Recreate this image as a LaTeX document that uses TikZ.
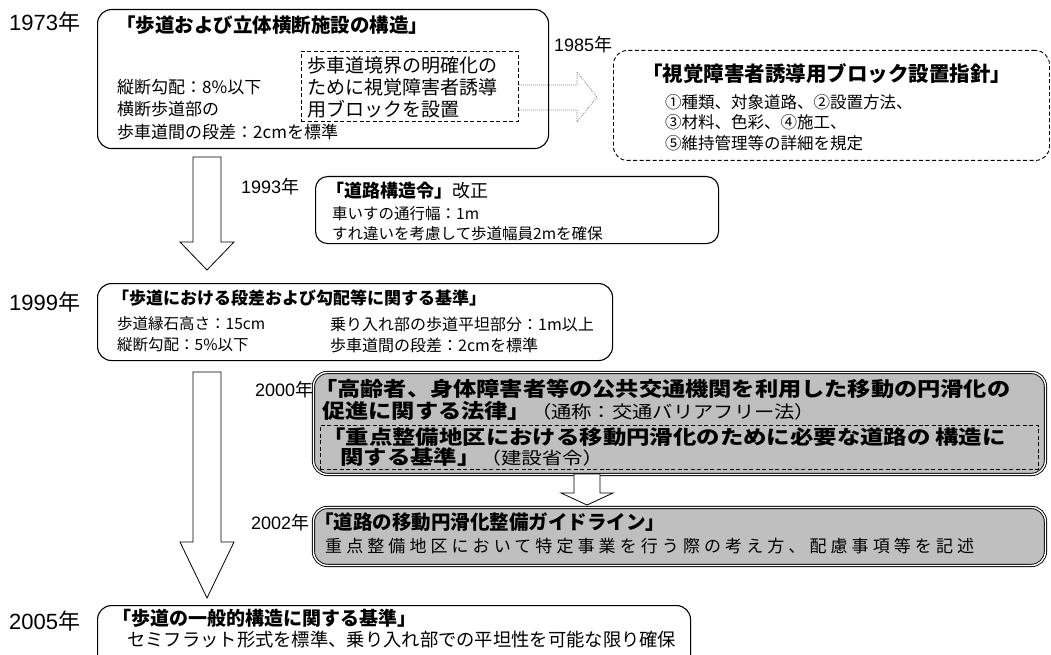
\documentclass[tikz,border=0pt]{standalone}
\usepackage{fontspec}
\setmainfont{Noto Sans CJK JP}
\newfontfamily\lat{Liberation Sans}
\usetikzlibrary{calc}
\newcommand\fs[1]{\fontsize{#1}{#1}\selectfont}
\newcommand\blkarrow[5]{%
  \draw[barrow] ($(#1)+(-#3,0)$) -- ($(#2)+(-#3,-#5)$) -- ($(#2)+(-#4,-#5)$) -- (#2)
    -- ($(#2)+(#4,-#5)$) -- ($(#2)+(#3,-#5)$) -- ($(#1)+(#3,0)$) -- cycle;}
\begin{document}
\begin{tikzpicture}[x=1pt,y=-1pt,
  box/.style={draw=black, line width=1.1pt, rounded corners=14pt, anchor=north west, inner sep=0pt},
  dbox/.style={draw=black, line width=0.9pt, dash pattern=on 4pt off 2.5pt, anchor=north west, inner sep=0pt},
  gbox/.style={draw=black, line width=0.9pt, double=white, double distance=1.4pt, rounded corners=14pt, fill=black!25, anchor=north west, inner sep=0pt},
  txt/.style={anchor=west, inner sep=0pt, font=\fs{#1}},
  ttl/.style={anchor=west, inner sep=0pt, font=\fs{#1}\bfseries},
  wide/.style={font=\fs{#1}\bfseries\addfontfeatures{FakeStretch=1.16}},
  wider/.style={font=\fs{#1}\bfseries\addfontfeatures{FakeStretch=1.2}},
  yr/.style={anchor=west, inner sep=0pt, font=\fs{#1}},
  barrow/.style={draw=black, line width=0.8pt, fill=white, line join=miter},
  garrow/.style={draw=black!50, line width=0.7pt, dash pattern=on 1pt off 1pt}
]
\useasboundingbox (0,0) rectangle (1051,655);

% ---------- 1973 ----------
\node[yr=22] (y1973) at (9,22) {{\lat 1973}年};
\node[box, minimum width=451pt, minimum height=139pt] (b1973) at (97,9) {};
\node[ttl=19.5] (t1973) at (116,25) {「歩道および立体横断施設の構造」};
\node[txt=17] (l1973a) at (117,87) {縦断勾配：8\%以下};
\node[txt=17] (l1973b) at (117,109) {横断歩道部の};
\node[txt=17] (l1973c) at (117,132) {歩車道間の段差：2cmを標準};
\node[dbox, minimum width=217pt, minimum height=70pt] (d1973) at (301,51) {};
\node[txt=19] (d1973a) at (307,65) {歩車道境界の明確化の};
\node[txt=19] (d1973b) at (307,87) {ために視覚障害者誘導};
\node[txt=19] (d1973c) at (307,109) {用ブロックを設置};

% ---------- 1985 ----------
\node[yr=18] (y1985) at (554,45) {{\lat 1985}年};
\node[dbox, rounded corners=14pt, minimum width=436pt, minimum height=110pt] (b1985) at (613,50) {};
\node[ttl=20.5] (t1985) at (642,74) {「視覚障害者誘導用ブロック設置指針」};
\node[txt=16.5] (l1985a) at (665,102) {①種類、対象道路、②設置方法、};
\node[txt=16.5] (l1985b) at (665,122) {③材料、色彩、④施工、};
\node[txt=16.5] (l1985c) at (665,143) {⑤維持管理等の詳細を規定};

% right hollow arrow (dotted grey)
\coordinate (ra0) at (d1973.east |- 0,97);
\coordinate (ratip) at (597,97);
\draw[garrow] ($(ra0)+(0,-12)$) -- ($(ratip)+(-20,-12)$) -- ($(ratip)+(-20,-25)$) -- (ratip)
  -- ($(ratip)+(-20,25)$) -- ($(ratip)+(-20,13)$) -- ($(ra0)+(0,13)$);

% ---------- 1993 ----------
\node[yr=18] (y1993) at (241,187) {{\lat 1993}年};
\node[box, rounded corners=12pt, minimum width=403pt, minimum height=67pt] (b1993) at (315,176) {};
\node[txt=18] (t1993) at (326,191) {{\bfseries 「道路構造令」}改正};
\node[txt=15.5] (l1993a) at (332,214) {車いすの通行幅：1m};
\node[txt=15.5] (l1993b) at (332,234) {すれ違いを考慮して歩道幅員2mを確保};

% arrow 1973 -> 1999
\coordinate (a1s) at (207,157);
\coordinate (a1t) at (207,270);
\blkarrow{a1s}{a1t}{14}{27}{28}

% ---------- 1999 ----------
\node[yr=22] (y1999) at (9,302) {{\lat 1999}年};
\node[box, minimum width=515pt, minimum height=77pt] (b1999) at (97,283) {};
\node[ttl=17] (t1999) at (112,298) {「歩道における段差および勾配等に関する基準」};
\node[txt=15.5] (l1999a) at (117,324) {歩道縁石高さ：15cm};
\node[txt=15.5] (l1999b) at (117,345) {縦断勾配：5\%以下};
\node[txt=16] (l1999c) at (330,324) {乗り入れ部の歩道平坦部分：1m以上};
\node[txt=16] (l1999d) at (330,345) {歩車道間の段差：2cmを標準};

% arrow 1999 -> 2005
\coordinate (a2s) at (207,372);
\coordinate (a2t) at (207,598);
\blkarrow{a2s}{a2t}{14}{27}{56}

% ---------- 2000 ----------
\node[yr=18] (y2000) at (255,390) {{\lat 2000}年};
\node[gbox, minimum width=732pt, minimum height=102pt] (b2000) at (313,372) {};
\node[dbox, minimum width=718pt, minimum height=44pt] (d2000) at (320,425) {};
\node[ttl, wide=20] (t2000a) at (314,389) {「高齢者、身体障害者等の公共交通機関を利用した移動の円滑化の};
\node[ttl, wide=20] (t2000b) at (322,411) {促進に関する法律」{\mdseries\fs{17.5}（通称：交通バリアフリー法）}};
\node[ttl, wider=19.5] (t2000c) at (322,437) {「重点整備地区における移動円滑化のために必要な道路の\hspace{5pt}構造に};
\node[ttl, wider=19.5] (t2000d) at (340,457) {関する基準」{\mdseries\fs{17}（建設省令）}};

% small arrow 2000 -> 2002
\coordinate (a3s) at (587,474);
\coordinate (a3t) at (587,505);
\blkarrow{a3s}{a3t}{13}{26}{12}

% ---------- 2002 ----------
\node[yr=18] (y2002) at (251,523) {{\lat 2002}年};
\node[gbox, minimum width=732pt, minimum height=58pt] (b2002) at (313,507) {};
\node[ttl=19.5] (t2002) at (314,522) {「道路の移動円滑化整備ガイドライン」};
\node[txt=17] (l2002) at (325,546) {\addfontfeatures{LetterSpace=24}重点整備地区において特定事業を行う際の考え方、配慮事項等を記述};

% ---------- 2005 ----------
\node[yr=22] (y2005) at (9,621) {{\lat 2005}年};
\node[box, minimum width=593pt, minimum height=70pt] (b2005) at (97,605) {};
\node[ttl=19] (t2005) at (112,618) {「歩道の一般的構造に関する基準」};
\node[txt=18.3] (l2005) at (127,640) {セミフラット形式を標準、乗り入れ部での平坦性を可能な限り確保};
\end{tikzpicture}
\end{document}
